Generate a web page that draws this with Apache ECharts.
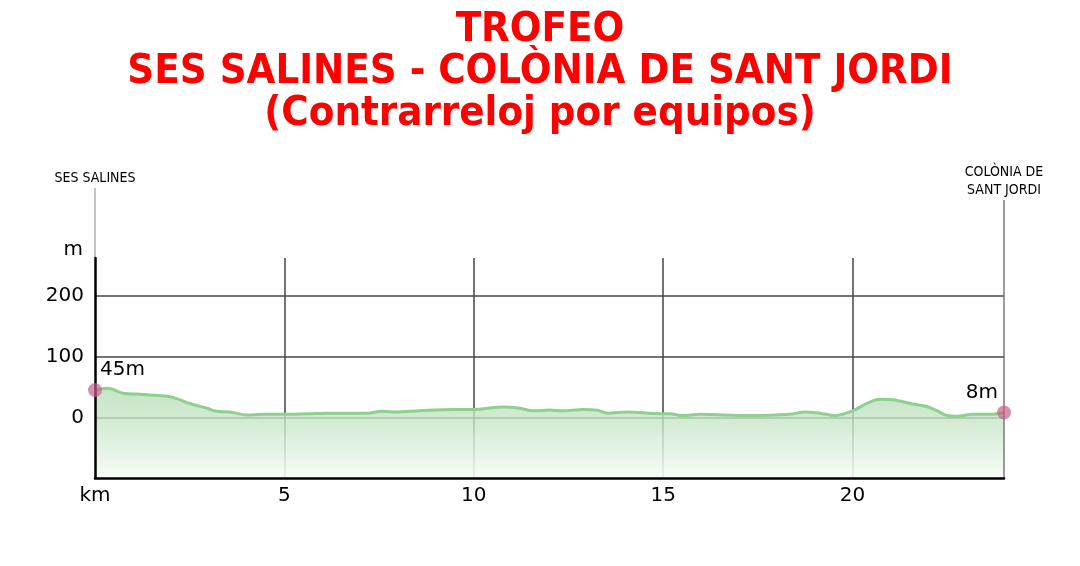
<!DOCTYPE html>
<html>
<head>
<meta charset="utf-8">
<script src="https://cdn.jsdelivr.net/npm/echarts@6/dist/echarts.min.js"></script>
<style>
html,body{margin:0;padding:0;background:#fff;}
#chart{width:1080px;height:566px;}
</style>
</head>
<body>
<div id="chart"></div>
<script>
// ---- data ----
const titleLines = ["TROFEO", "SES SALINES - COLÒNIA DE SANT JORDI", "(Contrarreloj por equipos)"];
const startName = ["SES SALINES"];
const endName = ["COLÒNIA DE", "SANT JORDI"];
const km =   [0, 0.34, 0.74, 1.19, 1.9, 2.16, 2.5, 2.96, 3.22, 3.56, 4.01, 4.43, 4.96, 5.6, 6.2, 7.18, 7.58, 7.97, 8.58, 9.45, 9.98, 10.77, 11.22, 11.56, 12.01, 12.35, 12.88, 13.25, 13.54, 14.04, 14.92, 15.18, 15.52, 15.97, 17.29, 18.35, 18.74, 19.14, 19.54, 20.01, 20.38, 20.72, 21.07, 21.59, 21.96, 22.23, 22.49, 22.76, 23.18, 23.63, 24];
const elev = [45, 48, 40, 38, 35, 31, 23, 15, 10, 9, 4, 5, 5, 6, 7, 7, 10, 9, 11, 13, 13, 17, 15, 11, 12, 11, 13, 12, 7, 9, 6, 6, 3, 5, 3, 5, 9, 7, 3, 11, 23, 30, 29, 22, 18, 11, 3, 2, 5, 5, 8];
const yTickValues = [0, 100, 200];
const xTickValues = [0, 5, 10, 15, 20];
const xUnit = "km";
const yUnit = "m";
const kmMax = 24;
const yMin = -100, yMax = 263;

const profile = km.map((k, i) => [k, elev[i]]);
const endpoints = [
  {value: [km[0], elev[0]], label: {align: 'left', offset: [5, 0]}},
  {value: [km[km.length - 1], elev[elev.length - 1]], label: {align: 'right', offset: [-6, 0]}}
];

const chart = echarts.init(document.getElementById('chart'), null, {renderer: 'canvas'});
const tickFont = 'DejaVu Sans';
const titleFont = "'DejaVu Sans Condensed', 'Liberation Sans Narrow', 'DejaVu Sans'";
const nameFont = "'Liberation Sans Narrow', 'DejaVu Sans Condensed', 'DejaVu Sans'";

const option = {
  backgroundColor: '#ffffff',
  animation: false,
  grid: {left: 95, right: 76, top: 258, bottom: 88},
  xAxis: [
    {
      type: 'value', min: 0, max: kmMax, interval: 5, z: 0,
      axisLine: {show: false, onZero: false}, axisTick: {show: false}, axisLabel: {show: false},
      splitLine: {show: true, showMinLine: false, showMaxLine: false, lineStyle: {color: '#444', width: 1.5}}
    },
    {
      type: 'value', min: 0, max: kmMax, interval: 5, z: 10, position: 'bottom',
      axisLine: {show: true, onZero: false, lineStyle: {color: '#000', width: 2.5}},
      axisTick: {show: false},
      splitLine: {show: false},
      axisLabel: {
        show: true, margin: 8, color: '#000', fontFamily: tickFont, fontSize: 20,
        formatter: v => v === 0 ? xUnit : (xTickValues.indexOf(v) >= 0 ? String(v) : '')
      }
    }
  ],
  yAxis: [
    {
      type: 'value', min: yMin, max: yMax, interval: 100, z: 0,
      axisLine: {show: false, onZero: false}, axisTick: {show: false}, axisLabel: {show: false},
      splitLine: {show: true, showMinLine: false, showMaxLine: false, lineStyle: {color: '#444', width: 1.5}}
    },
    {
      type: 'value', min: yMin, max: yMax, interval: 100, z: 10, position: 'left',
      axisLine: {show: true, onZero: false, lineStyle: {color: '#000', width: 2.5}},
      axisTick: {show: false},
      splitLine: {show: false},
      axisLabel: {
        show: true, margin: 11, color: '#000', fontFamily: tickFont, fontSize: 20,
        formatter: v => yTickValues.indexOf(v) >= 0 ? String(v) : ''
      }
    }
  ],
  series: [
    {
      type: 'line',
      data: profile,
      xAxisIndex: 0, yAxisIndex: 0,
      smooth: 0.35,
      showSymbol: false,
      z: 2,
      lineStyle: {color: '#8fcf8f', width: 3},
      areaStyle: {
        origin: 'start',
        opacity: 1,
        color: new echarts.graphic.LinearGradient(0, 0, 0, 1, [
          {offset: 0, color: 'rgba(185,224,185,0.82)'},
          {offset: 0.35, color: 'rgba(198,229,198,0.78)'},
          {offset: 1, color: 'rgba(248,252,248,0.9)'}
        ])
      }
    },
    {
      type: 'scatter',
      data: endpoints,
      xAxisIndex: 0, yAxisIndex: 0,
      symbolSize: 14,
      z: 20,
      itemStyle: {color: 'rgba(204,90,140,0.85)'},
      label: {
        show: true, position: 'top', distance: 3, opacity: 1,
        color: '#000', textBorderWidth: 0, fontFamily: tickFont, fontSize: 20,
        formatter: p => p.value[1] + yUnit
      }
    }
  ]
};
chart.setOption(option);

// decorative extension lines, title & place names, positioned through the axes
const p0 = chart.convertToPixel({xAxisIndex: 0, yAxisIndex: 0}, [0, yMax]);
const pE = chart.convertToPixel({xAxisIndex: 0, yAxisIndex: 0}, [kmMax, yMin]);
const pEt = chart.convertToPixel({xAxisIndex: 0, yAxisIndex: 0}, [kmMax, yMax]);
chart.setOption({
  graphic: [
    {type: 'text', z: 5, x: 540, y: 9, style: {text: titleLines.join('\n'), fill: '#ff0000', font: 'bold 41.5px ' + titleFont, lineHeight: 42, align: 'center', verticalAlign: 'top'}},
    {type: 'line', z: 5, shape: {x1: p0[0], y1: 188, x2: p0[0], y2: p0[1]}, style: {stroke: '#888', lineWidth: 1}},
    {type: 'line', z: 5, shape: {x1: pE[0], y1: 200, x2: pE[0], y2: pE[1]}, style: {stroke: '#666', lineWidth: 1.3}},
    {type: 'text', z: 5, x: p0[0], y: 178, style: {text: startName.join('\n'), fill: '#000', font: '14px ' + nameFont, align: 'center', verticalAlign: 'middle'}},
    {type: 'text', z: 5, x: pE[0], y: 181, style: {text: endName.join('\n'), fill: '#000', font: '14px ' + nameFont, lineHeight: 18, align: 'center', verticalAlign: 'middle'}},
    {type: 'text', z: 5, x: p0[0] - 12, y: pEt[1] - 8, style: {text: yUnit, fill: '#000', font: '20px ' + tickFont, align: 'right', verticalAlign: 'middle'}}
  ]
});
</script>
</body>
</html>
